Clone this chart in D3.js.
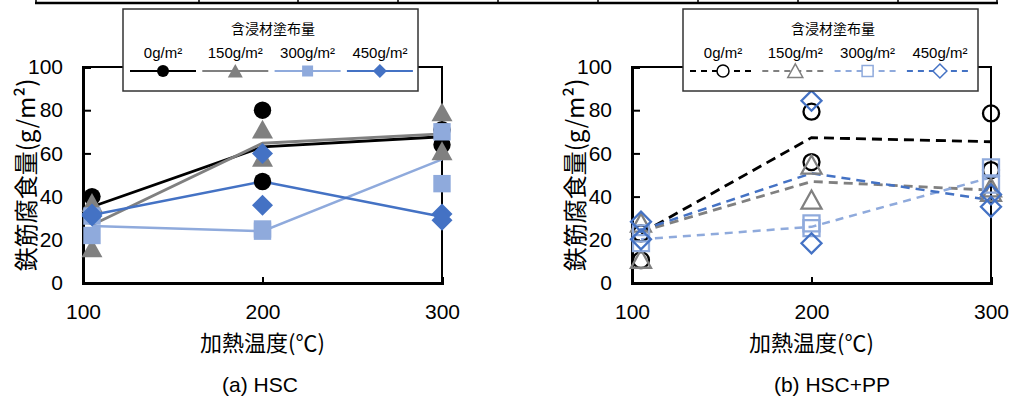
<!DOCTYPE html>
<html>
<head>
<meta charset="utf-8">
<script src="https://cdn.jsdelivr.net/npm/d3@7"></script>
<style>
body { margin:0; background:#fff; }
text { font-family:"Liberation Sans", Arial, sans-serif; fill:#000; }
.jp { font-family:"Noto Sans CJK JP", sans-serif; }
</style>
</head>
<body>
<svg id="chart" width="1011" height="401"></svg>
<script>
// values
const temps = [105, 200, 300];
const xTicks = [100, 200, 300];
const yTicks = [0, 20, 40, 60, 80, 100];
const coatings = ["0g/m²", "150g/m²", "300g/m²", "450g/m²"];
const legendTitle = "含浸材塗布量";
const xTitle = "加熱温度(℃)";
const yTitle = "鉄筋腐食量(g/m²)";
const captions = ["(a) HSC", "(b) HSC+PP"];

// (a) HSC : two specimens per temperature + mean line
const hsc0   = [[40, 31], [80, 47], [64, 71]];
const hsc150 = [[37, 16], [71, 58], [79, 61]];
const hsc300 = [[31, 22], [25, 24], [70, 46]];
const hsc450 = [[31, 32], [60, 36], [32, 29]];
const hscAvg0   = [35.3, 63.0, 67.7];
const hscAvg150 = [26.8, 64.7, 69.0];
const hscAvg300 = [26.4, 24.0, 57.2];
const hscAvg450 = [31.5, 47.0, 30.7];

// (b) HSC+PP
const pp0   = [[10.6, 23], [79.3, 56], [78.5, 52.3]];
const pp150 = [[11, 27.7], [54.6, 38.4], [44, 42]];
const pp300 = [[23, 18.5], [27.6, 25.4], [53.5, 45.5]];
const pp450 = [[28.4, 20.2], [84.4, 18.4], [41, 35.3]];
const ppAvg0   = [23.0, 67.3, 65.4];
const ppAvg150 = [23.8, 47.0, 43.0];
const ppAvg300 = [20.2, 26.0, 48.9];
const ppAvg450 = [24.5, 50.8, 38.4];

const colors = ["#000000", "#808080", "#8faadc", "#4472c4"];
const shapes = ["circle", "triangle", "square", "diamond"];

var svg = d3.select("#chart");

// bit of the table that sits above the charts
var tableCols = [36, 199, 298, 398, 498, 598, 698, 798, 898, 997];
svg.append("line").attr("x1", 35).attr("x2", 998).attr("y1", 3).attr("y2", 3)
	.attr("stroke", "#000").attr("stroke-width", 2.5);
tableCols.forEach(function (c) {
	svg.append("line").attr("x1", c).attr("x2", c).attr("y1", 0).attr("y2", 3)
		.attr("stroke", "#000").attr("stroke-width", 1.5);
});

// marker path, s = half size
function markerPath(shape, s) {
	if (shape === "circle")
		return d3.symbol(d3.symbolCircle, Math.PI * s * s)();
	if (shape === "triangle")
		return "M0," + (-s * 0.95) + "L" + s + "," + (s * 0.85) + "L" + (-s) + "," + (s * 0.85) + "Z";
	if (shape === "square")
		return "M" + (-s) + "," + (-s) + "H" + s + "V" + s + "H" + (-s) + "Z";
	return "M0," + (-s) + "L" + s + ",0L0," + s + "L" + (-s) + ",0Z";
}

var panels = [
	{ x0:83, x1:442, pts:[hsc0, hsc150, hsc300, hsc450], avg:[hscAvg0, hscAvg150, hscAvg300, hscAvg450],
	  open:false, legX:123, caption:captions[0], capX:260 },
	{ x0:632, x1:991, pts:[pp0, pp150, pp300, pp450], avg:[ppAvg0, ppAvg150, ppAvg300, ppAvg450],
	  open:true, legX:683, caption:captions[1], capX:832 }
];

var plotTop = 67, plotBottom = 283;
var bigSize = { circle:8.7, triangle:10.5, square:8.7, diamond:10.5 };
var openSize = { circle:8, triangle:10, square:8, diamond:10 };
var legSize = { circle:6, triangle:7.5, square:5.5, diamond:7 };
var dashes = ["10,6", "9,6", "8,6", "9,6"];

panels.forEach(function (p) {
	var x = d3.scaleLinear().domain([100, 300]).range([p.x0, p.x1]);
	var y = d3.scaleLinear().domain([0, 100]).range([plotBottom, plotTop]);
	var g = svg.append("g");

	// frame
	g.append("rect").attr("x", p.x0).attr("y", plotTop)
		.attr("width", p.x1 - p.x0).attr("height", plotBottom - plotTop)
		.attr("fill", "none").attr("stroke", "#000").attr("stroke-width", 2);

	// axes
	var yAxis = d3.axisLeft(y).tickValues(yTicks).tickSize(-8).tickPadding(20);
	var gy = g.append("g").attr("transform", "translate(" + p.x0 + ",0)").call(yAxis);
	var xAxis = d3.axisBottom(x).tickValues(xTicks).tickSize(-6).tickPadding(21);
	var gx = g.append("g").attr("transform", "translate(0," + plotBottom + ")").call(xAxis);
	[gx, gy].forEach(function (a) {
		a.select(".domain").attr("stroke", "#000").attr("stroke-width", 3);
		a.selectAll(".tick line").attr("stroke", "#000").attr("stroke-width", 2);
		a.selectAll(".tick text").attr("font-size", 21).attr("fill", "#000")
			.style("font-family", "'Liberation Sans', Arial, sans-serif");
	});

	// mean lines
	var line = d3.line().x(function (d, i) { return x(temps[i]); }).y(function (d) { return y(d); });
	p.avg.forEach(function (a, k) {
		g.append("path").datum(a).attr("d", line).attr("fill", "none")
			.attr("stroke", colors[k]).attr("stroke-width", k < 2 ? 2.8 : 2.5)
			.attr("stroke-dasharray", p.open ? dashes[k] : null);
	});

	// specimen markers
	p.pts.forEach(function (s, k) {
		var flat = [];
		s.forEach(function (vals, i) { vals.forEach(function (v) { flat.push({ t:temps[i], v:v }); }); });
		var sz = p.open ? openSize[shapes[k]] : bigSize[shapes[k]];
		g.selectAll(null).data(flat).enter().append("path")
			.attr("transform", function (d) { return "translate(" + x(d.t) + "," + y(d.v) + ")"; })
			.attr("d", markerPath(shapes[k], sz))
			.attr("fill", p.open ? "none" : colors[k])
			.attr("stroke", p.open ? colors[k] : "none")
			.attr("stroke-width", 2.3);
	});

	// legend
	var lg = g.append("g").attr("transform", "translate(" + p.legX + ",9)");
	lg.append("rect").attr("width", 295).attr("height", 82)
		.attr("fill", "#fff").attr("stroke", "#333").attr("stroke-width", 1.5);
	lg.append("text").attr("class", "jp").attr("x", 150).attr("y", 25)
		.attr("text-anchor", "middle").attr("font-size", 14).text(legendTitle);
	coatings.forEach(function (c, k) {
		var cx = 40 + k * 72.3;
		lg.append("text").attr("x", cx).attr("y", 49).attr("text-anchor", "middle")
			.attr("font-size", 15).text(c);
		lg.append("line").attr("x1", cx - 33).attr("x2", cx + 33).attr("y1", 62).attr("y2", 62)
			.attr("stroke", colors[k]).attr("stroke-width", 2)
			.attr("stroke-dasharray", p.open ? "6,5" : null);
		lg.append("path").attr("transform", "translate(" + cx + ",62)")
			.attr("d", markerPath(shapes[k], legSize[shapes[k]]))
			.attr("fill", p.open ? "#fff" : colors[k])
			.attr("stroke", p.open ? colors[k] : "none").attr("stroke-width", 1.5);
	});

	// titles
	g.append("text").attr("class", "jp")
		.attr("transform", "translate(" + (p.x0 - 48) + "," + ((plotTop + plotBottom) / 2) + ") rotate(-90)")
		.attr("text-anchor", "middle").attr("font-size", 24).text(yTitle);
	g.append("text").attr("class", "jp").attr("x", (p.x0 + p.x1) / 2).attr("y", 351)
		.attr("text-anchor", "middle").attr("font-size", 22).text(xTitle);
	g.append("text").attr("x", p.capX).attr("y", 392)
		.attr("text-anchor", "middle").attr("font-size", 21).text(p.caption);
});
</script>
</body>
</html>
